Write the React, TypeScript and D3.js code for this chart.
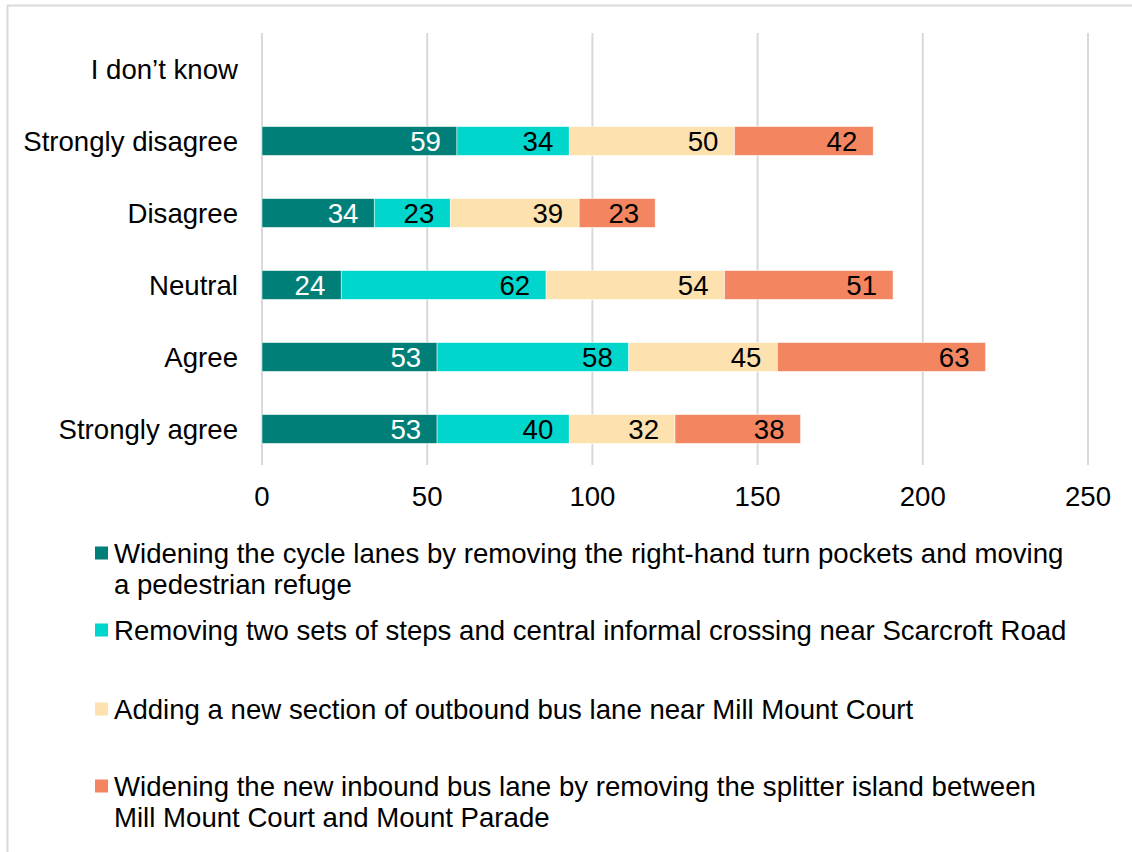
import React from "react";
import * as d3 from "d3";

const categories = ["I don\u2019t know", "Strongly disagree", "Disagree", "Neutral", "Agree", "Strongly agree"];
const seriesNames = [
  ["Widening the cycle lanes by removing the right-hand turn pockets and moving", "a pedestrian refuge"],
  ["Removing two sets of steps and central informal crossing near Scarcroft Road"],
  ["Adding a new section of outbound bus lane near Mill Mount Court"],
  ["Widening the new inbound bus lane by removing the splitter island between", "Mill Mount Court and Mount Parade"],
];
const cycleLanes = [0, 59, 34, 24, 53, 53];
const stepsCrossing = [0, 34, 23, 62, 58, 40];
const outboundBus = [0, 50, 39, 54, 45, 32];
const inboundBus = [0, 42, 23, 51, 63, 38];
const xTicks = [0, 50, 100, 150, 200, 250];

const colors = ["#007F79", "#00D6CC", "#FDE1AE", "#F38661"];
const labelColors = ["#ffffff", "#000000", "#000000", "#000000"];
const legendY = [553, 630, 709, 786];

export default function App() {
  const W = 1132, H = 852;
  const x = d3.scaleLinear().domain([0, 250]).range([262, 1088]);
  const y = d3.scaleBand().domain(categories).range([33, 465]).paddingInner(0.6).paddingOuter(0.3);
  const series = [cycleLanes, stepsCrossing, outboundBus, inboundBus];
  const rows = categories.map((c, i) => {
    const o: any = { cat: c };
    series.forEach((s, k) => (o["s" + k] = s[i]));
    return o;
  });
  const stacked = d3.stack().keys(["s0", "s1", "s2", "s3"])(rows);
  const font = "'Liberation Sans', Arial, sans-serif";
  const fs = 27.6;
  return (
    <svg width={W} height={H} style={{ position: "absolute", left: 0, top: 0, background: "#fff" }} fontFamily={font}>
      <line x1={7} x2={W} y1={5.5} y2={5.5} stroke="#d9d9d9" strokeWidth={2} />
      <line x1={7.5} x2={7.5} y1={5} y2={H} stroke="#d9d9d9" strokeWidth={2} />
      {xTicks.map((t) => (
        <g key={t}>
          <line x1={x(t)} x2={x(t)} y1={33} y2={465} stroke="#d9d9d9" strokeWidth={2} />
          <text x={x(t)} y={506} textAnchor="middle" fontSize={fs} fill="#000">{t}</text>
        </g>
      ))}
      {categories.map((c) => (
        <text key={c} x={238} y={(y(c) as number) + y.bandwidth() / 2 + 9.5} textAnchor="end" fontSize={fs} fill="#000">{c}</text>
      ))}
      {stacked.map((layer, k) => (
        <g key={k}>
          {layer.map((d, i) => {
            const v = d[1] - d[0];
            if (!v) return null;
            const yy = y(categories[i]) as number;
            return (
              <g key={i}>
                <rect x={x(d[0])} y={yy} width={x(d[1]) - x(d[0])} height={y.bandwidth()} fill={colors[k]} stroke="#ffffff" strokeOpacity={0.6} strokeWidth={0.8} />
                <text x={x(d[1]) - 16} y={yy + y.bandwidth() / 2 + 9.5} textAnchor="end" fontSize={fs} fill={labelColors[k]}>{v}</text>
              </g>
            );
          })}
        </g>
      ))}
      {seriesNames.map((lines, k) => (
        <g key={k}>
          <rect x={95} y={legendY[k] - 6.5} width={13} height={13} fill={colors[k]} />
          {lines.map((ln, j) => (
            <text key={j} x={114} y={legendY[k] + 9.5 + j * 31} fontSize={fs} fill="#000">{ln}</text>
          ))}
        </g>
      ))}
    </svg>
  );
}
